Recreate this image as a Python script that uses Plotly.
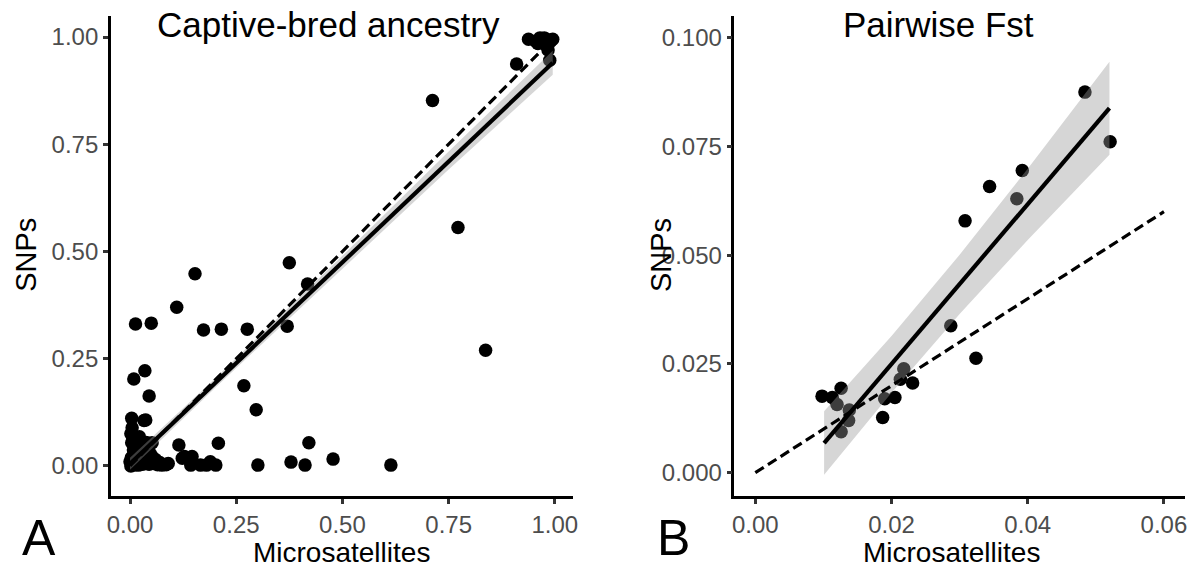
import plotly.graph_objects as go

# ---- Panel A: captive-bred ancestry, microsatellites vs SNPs ----
anc_msat = [
    0.004, 0.033, 0.005, 0.006, 0.022, 0.004, 0.008, 0.003, 0.002, 0.010,
    0.015, 0.020, 0.025, 0.030, 0.035, 0.040, 0.045, 0.050, 0.055, 0.060,
    0.065, 0.070, 0.075, 0.085, 0.090, 0.012, 0.018, 0.008, 0.014, 0.006,
    0.030, 0.045, 0.052, 0.038, 0.002, 0.010, 0.000, 0.016, 0.028, 0.042,
    0.115, 0.123, 0.143, 0.128, 0.146, 0.143, 0.166, 0.180, 0.189, 0.202,
    0.208, 0.301, 0.379, 0.412, 0.421, 0.478, 0.614, 0.297, 0.268, 0.009,
    0.035, 0.045, 0.037, 0.013, 0.050, 0.110, 0.153, 0.173, 0.215, 0.276,
    0.370, 0.375, 0.418, 0.712, 0.772, 0.837, 0.910, 0.938, 0.955, 0.965,
    0.972, 0.980, 0.990, 0.985, 0.975, 0.984, 0.988, 0.995, 0.960,
]
anc_snp = [
    0.111, 0.106, 0.089, 0.068, 0.068, 0.054, 0.037, 0.019, 0.000, 0.005,
    0.010, 0.002, 0.030, 0.045, 0.020, 0.010, 0.004, 0.025, 0.006, 0.015,
    0.003, 0.008, 0.002, 0.003, 0.006, 0.025, 0.040, 0.012, 0.003, 0.002,
    0.004, 0.035, 0.054, 0.055, 0.075, 0.020, 0.010, 0.047, 0.012, 0.006,
    0.049, 0.018, 0.010, 0.022, 0.022, 0.002, 0.002, 0.002, 0.010, 0.002,
    0.053, 0.002, 0.009, 0.002, 0.054, 0.016, 0.002, 0.131, 0.187, 0.203,
    0.222, 0.163, 0.107, 0.331, 0.333, 0.370, 0.448, 0.317, 0.319, 0.319,
    0.326, 0.474, 0.424, 0.852, 0.556, 0.270, 0.937, 0.995, 0.990, 0.998,
    0.992, 0.995, 0.990, 0.985, 0.998, 0.970, 0.946, 0.995, 0.985,
]
# fitted regression (solid) and its confidence band
anc_fit_x = [0.0, 0.995]
anc_fit_y = [0.005, 0.940]
anc_band_x = [0.0, 0.2, 0.5, 0.75, 0.995]
anc_band_lo = [-0.009, 0.182, 0.460, 0.691, 0.912]
anc_band_hi = [0.019, 0.204, 0.490, 0.733, 0.968]
# 1:1 reference (dashed)
anc_ref_x = [0.0, 0.99]
anc_ref_y = [0.0, 0.99]

# ---- Panel B: pairwise Fst ----
fst_msat = [
    0.0287, 0.0324, 0.0218, 0.0213, 0.0231, 0.0190, 0.0205, 0.0187, 0.0098,
    0.0113, 0.0126, 0.0120, 0.0138, 0.0137, 0.0126, 0.0484, 0.0521, 0.0392,
    0.0344, 0.0384, 0.0308,
]
fst_snp = [
    0.0338, 0.0263, 0.0239, 0.0215, 0.0206, 0.0170, 0.0173, 0.0127, 0.0176,
    0.0173, 0.0194, 0.0157, 0.0144, 0.0120, 0.0094, 0.0875, 0.0761, 0.0695,
    0.0658, 0.0630, 0.0579,
]
fst_fit_x = [0.0101, 0.0520]
fst_fit_y = [0.0068, 0.0838]
fst_band_x = [0.0101, 0.020, 0.030, 0.040, 0.0520]
fst_band_lo = [-0.0005, 0.0184, 0.0365, 0.0535, 0.0731]
fst_band_hi = [0.0141, 0.0314, 0.0501, 0.0699, 0.0945]
fst_ref_x = [0.0, 0.06]
fst_ref_y = [0.0, 0.06]

BAND = "rgba(153,153,153,0.4)"
FONT = "Liberation Sans, Arial, sans-serif"

fig = go.Figure()


def add_panel(xs, ys, fx, fy, bx, blo, bhi, rx, ry, xa, ya):
    fig.add_trace(go.Scatter(x=xs, y=ys, mode="markers", xaxis=xa, yaxis=ya,
                             marker=dict(color="black", size=13.5, line=dict(width=0)),
                             showlegend=False, hoverinfo="skip"))
    fig.add_trace(go.Scatter(x=bx + bx[::-1], y=bhi + blo[::-1], xaxis=xa, yaxis=ya,
                             fill="toself", fillcolor=BAND, mode="lines",
                             line=dict(width=0), showlegend=False, hoverinfo="skip"))
    fig.add_trace(go.Scatter(x=fx, y=fy, mode="lines", xaxis=xa, yaxis=ya,
                             line=dict(color="black", width=4.2),
                             showlegend=False, hoverinfo="skip"))
    fig.add_trace(go.Scatter(x=rx, y=ry, mode="lines", xaxis=xa, yaxis=ya,
                             line=dict(color="black", width=3.2, dash="10px,5px"),
                             showlegend=False, hoverinfo="skip"))


add_panel(anc_msat, anc_snp, anc_fit_x, anc_fit_y, anc_band_x, anc_band_lo,
          anc_band_hi, anc_ref_x, anc_ref_y, "x", "y")
add_panel(fst_msat, fst_snp, fst_fit_x, fst_fit_y, fst_band_x, fst_band_lo,
          fst_band_hi, fst_ref_x, fst_ref_y, "x2", "y2")

W, H = 1198, 569
axis_common = dict(showline=True, linecolor="black", linewidth=2.6, showgrid=False,
                   zeroline=False, ticks="outside", ticklen=5, tickwidth=2.6,
                   tickcolor="#333333", tickfont=dict(size=24, color="#4D4D4D", family=FONT))

yb = 1 - 496 / H
yt = 1 - 16 / H
fig.update_layout(
    width=W, height=H, margin=dict(l=0, r=0, t=0, b=0),
    paper_bgcolor="white", plot_bgcolor="white",
    font=dict(family=FONT, color="black"),
    xaxis=dict(domain=[107.7 / W, 573 / W], range=[-0.045, 1.042],
               tickvals=[0, 0.25, 0.5, 0.75, 1.0], tickformat=".2f", anchor="y", **axis_common),
    yaxis=dict(domain=[yb, yt], range=[-0.070, 1.049],
               tickvals=[0, 0.25, 0.5, 0.75, 1.0], tickformat=".2f", anchor="x", **axis_common),
    xaxis2=dict(domain=[736 / W, 1190 / W], range=[-0.00306, 0.0631],
                tickvals=[0, 0.02, 0.04, 0.06], tickformat=".2f", anchor="y2", **axis_common),
    yaxis2=dict(domain=[yb, yt], range=[-0.00536, 0.105],
                tickvals=[0, 0.025, 0.05, 0.075, 0.1], tickformat=".3f", anchor="x2", **axis_common),
)


def label(text, x, y, size, angle=0, yanchor="middle"):
    fig.add_annotation(text=text, x=x / W, y=1 - y / H, xref="paper", yref="paper",
                       showarrow=False, textangle=angle, xanchor="center", yanchor=yanchor,
                       font=dict(size=size, color="black", family=FONT))


label("Captive-bred ancestry", 327, 24, 35)
label("Pairwise Fst", 942, 24, 35)
label("Microsatellites", 340, 552, 28)
label("Microsatellites", 955, 552, 28)
label("SNPs", 22, 255, 29, -90)
label("SNPs", 662, 255, 29, -90)
# panel letters, kept fully inside the bottom edge
label("A", 35, 568, 50, yanchor="bottom")
label("B", 675, 568, 50, yanchor="bottom")

fig.write_html("out.html")
